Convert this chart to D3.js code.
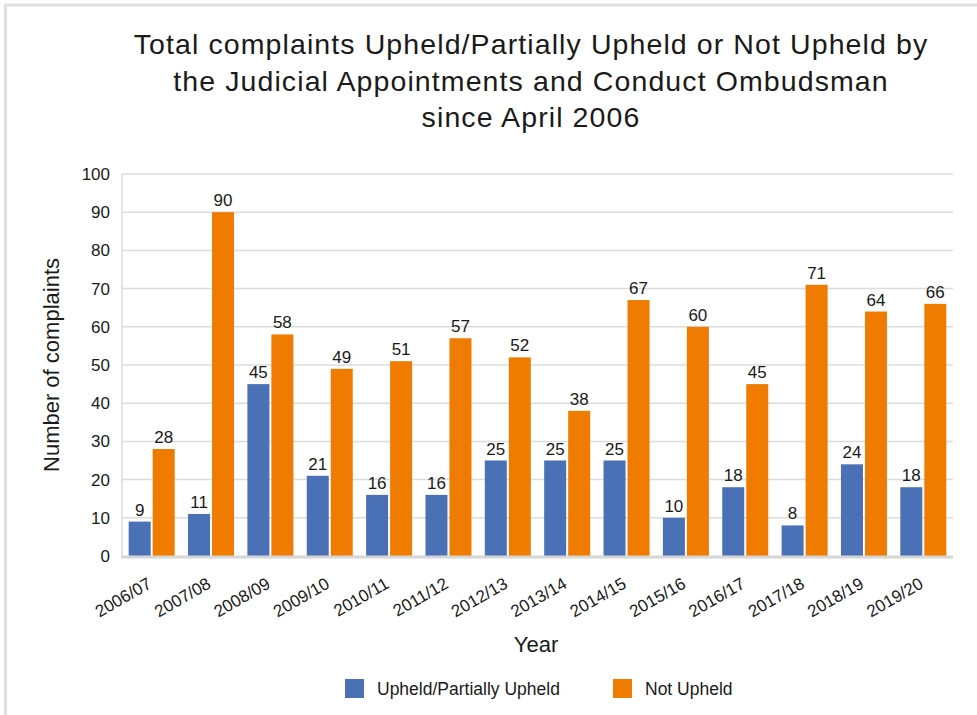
<!DOCTYPE html>
<html>
<head>
<meta charset="utf-8">
<script src="https://cdn.jsdelivr.net/npm/d3@7"></script>
<style>
  body { margin: 0; background: #fff; }
  text { font-family: "Liberation Sans", Arial, Helvetica, sans-serif; fill: #1a1a1a; }
</style>
</head>
<body>
<div id="chart"></div>
<script>
const years = ["2006/07", "2007/08", "2008/09", "2009/10", "2010/11", "2011/12", "2012/13",
    "2013/14", "2014/15", "2015/16", "2016/17", "2017/18", "2018/19", "2019/20"];
const upheld = [9, 11, 45, 21, 16, 16, 25, 25, 25, 10, 18, 8, 24, 18];
const notUpheld = [28, 90, 58, 49, 51, 57, 52, 38, 67, 60, 45, 71, 64, 66];
const seriesNames = ["Upheld/Partially Upheld", "Not Upheld"];
const yTicks = [0, 10, 20, 30, 40, 50, 60, 70, 80, 90, 100];
const titleLines = ["Total complaints Upheld/Partially Upheld or Not Upheld by",
    "the Judicial Appointments and Conduct Ombudsman", "since April 2006"];

function main() {
    const width = 977;
    const height = 715;
    const margin = { top: 174, right: 24, bottom: 159, left: 122 };
    const colors = ["#4a70b6", "#ef7b00"];

    const svg = d3.select("#chart").append("svg")
        .attr("width", width)
        .attr("height", height)

    // frame (top + left edges only)
    svg.append("path")
        .attr("d", `M5.5,${height} V5 H${width}`)
        .attr("fill", "none")
        .attr("stroke", "#e0e0e0")
        .attr("stroke-width", 3)

    svg.append("text")
        .attr("text-anchor", "middle")
        .attr("font-size", 28.5)
        .attr("letter-spacing", 1.1)
        .selectAll("tspan")
        .data(titleLines)
        .enter().append("tspan")
        .attr("x", 531)
        .attr("y", (d, i) => 54 + i * 36.5)
        .text(d => d)

    const x = d3.scaleBand()
        .domain(years)
        .range([margin.left, width - margin.right])

    const y = d3.scaleLinear()
        .domain([0, 100])
        .range([height - margin.bottom, margin.top])

    // gridlines
    svg.append("g")
        .selectAll("line")
        .data(yTicks.slice(1))
        .enter().append("line")
        .attr("x1", margin.left)
        .attr("x2", width - margin.right)
        .attr("y1", d => y(d))
        .attr("y2", d => y(d))
        .attr("stroke", "#dcdcdc")
        .attr("stroke-width", 1.5)

    svg.append("line")
        .attr("x1", margin.left).attr("x2", margin.left)
        .attr("y1", y(100)).attr("y2", y(0))
        .attr("stroke", "#dcdcdc")
        .attr("stroke-width", 1.5)

    const yAxis = svg.append("g")
        .attr("transform", `translate(${margin.left - 12},0)`)
        .call(d3.axisLeft(y).tickValues(yTicks).tickSize(0).tickPadding(0))
    yAxis.select(".domain").remove()
    yAxis.selectAll("text")
        .attr("font-size", 17)
        .attr("font-family", null)

    const inner = x.bandwidth();
    const barW = 22;
    const gap = 2;
    const offset = (inner - 2 * barW - gap) / 2;

    const groups = svg.append("g")
        .selectAll("g")
        .data(years)
        .enter().append("g")
        .attr("transform", d => `translate(${x(d)},0)`)

    const series = [upheld, notUpheld];
    series.forEach((vals, s) => {
        groups.append("rect")
            .attr("x", offset + s * (barW + gap))
            .attr("y", (d, i) => y(vals[i]))
            .attr("width", barW)
            .attr("height", (d, i) => y(0) - y(vals[i]))
            .attr("fill", colors[s])

        groups.append("text")
            .attr("x", offset + s * (barW + gap) + barW / 2)
            .attr("y", (d, i) => y(vals[i]) - 6)
            .attr("text-anchor", "middle")
            .attr("font-size", 17)
            .text((d, i) => vals[i])
    });

    // baseline
    svg.append("line")
        .attr("x1", margin.left - 1).attr("x2", width - margin.right)
        .attr("y1", y(0) + 1).attr("y2", y(0) + 1)
        .attr("stroke", "#d6d6d6")
        .attr("stroke-width", 3)

    const xAxis = svg.append("g")
        .attr("transform", `translate(0,${y(0)})`)
        .call(d3.axisBottom(x).tickSize(0).tickPadding(0))
    xAxis.select(".domain").remove()
    xAxis.selectAll("text")
        .attr("font-size", 17)
        .attr("font-family", null)
        .attr("text-anchor", "end")
        .attr("dy", null)
        .attr("transform", "translate(1,31) rotate(-30)")

    svg.append("text")
        .attr("transform", "translate(59,365) rotate(-90)")
        .attr("text-anchor", "middle")
        .attr("font-size", 22)
        .text("Number of complaints")

    svg.append("text")
        .attr("x", 536)
        .attr("y", 652)
        .attr("text-anchor", "middle")
        .attr("font-size", 22)
        .text("Year")

    const legendX = [345, 613];
    seriesNames.forEach((name, i) => {
        svg.append("rect")
            .attr("x", legendX[i])
            .attr("y", 679)
            .attr("width", 19)
            .attr("height", 19)
            .attr("fill", colors[i])
        svg.append("text")
            .attr("x", legendX[i] + 32)
            .attr("y", 695)
            .attr("font-size", 17.5)
            .text(name)
    });
}
main();
</script>
</body>
</html>
